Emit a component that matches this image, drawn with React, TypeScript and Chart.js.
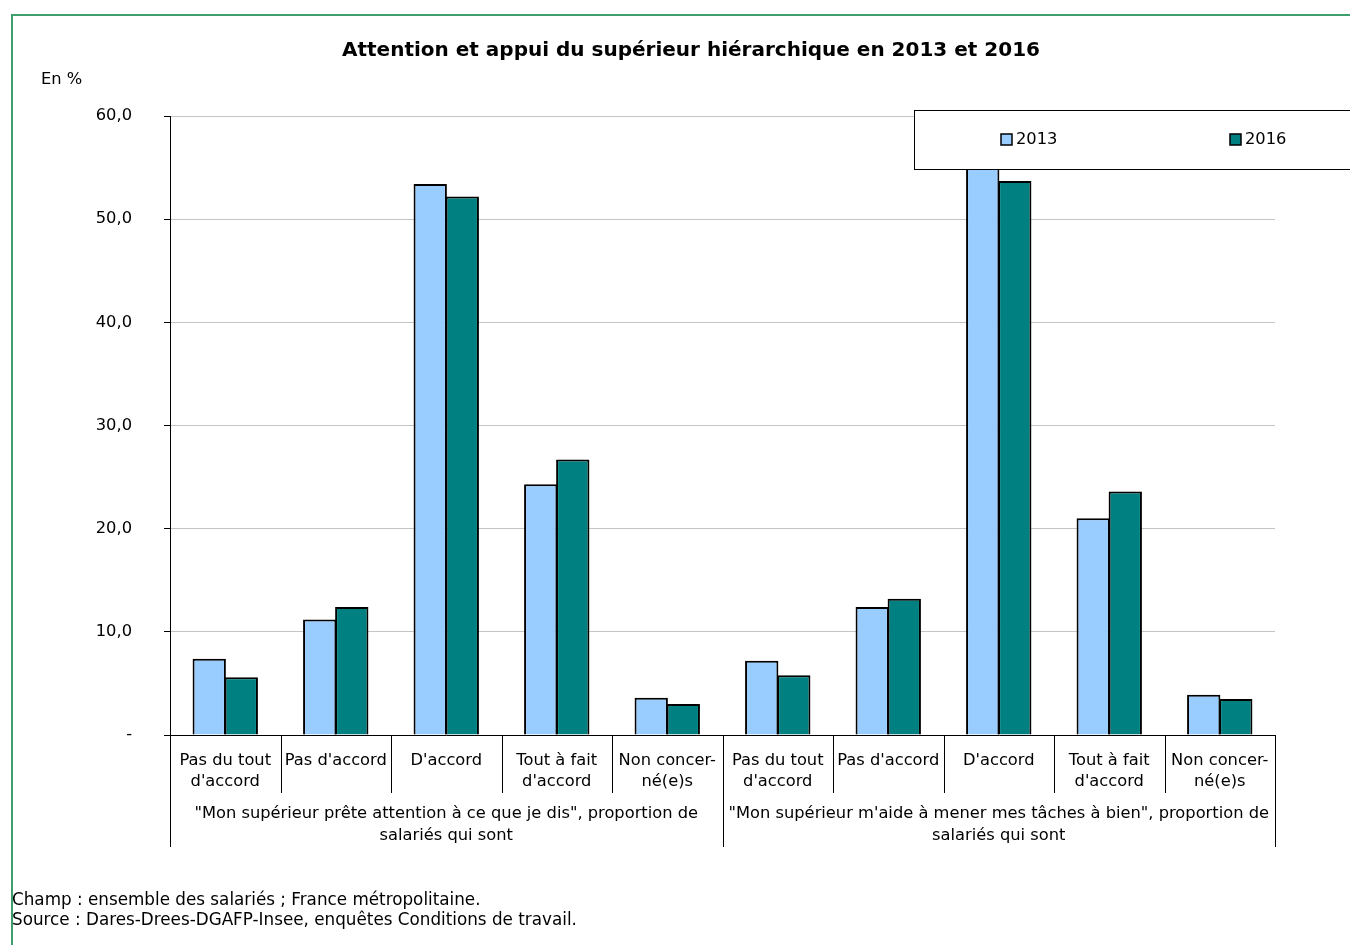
import React, { useEffect, useRef } from 'react';
import { Chart, registerables } from 'chart.js';

Chart.register(...registerables);

const titleText = 'Attention et appui du supérieur hiérarchique en 2013 et 2016';
const unitText = 'En %';
const categories: string[][] = [
  ['Pas du tout', "d'accord"],
  ["Pas d'accord"],
  ["D'accord"],
  ['Tout à fait', "d'accord"],
  ['Non concer-', 'né(e)s'],
  ['Pas du tout', "d'accord"],
  ["Pas d'accord"],
  ["D'accord"],
  ['Tout à fait', "d'accord"],
  ['Non concer-', 'né(e)s'],
];
const groupLabels: string[][] = [
  ['"Mon supérieur prête attention à ce que je dis", proportion de', 'salariés qui sont'],
  ['"Mon supérieur m\'aide à mener mes tâches à bien", proportion de', 'salariés qui sont'],
];
const seriesNames = ['2013', '2016'];
const values2013 = [7.4, 11.2, 53.4, 24.3, 3.6, 7.2, 12.4, 56.8, 21.0, 3.9];
const values2016 = [5.6, 12.4, 52.2, 26.7, 3.0, 5.8, 13.2, 53.7, 23.6, 3.5];
const yTickValues = [0, 10, 20, 30, 40, 50, 60];
const yTickLabels = ['-', '10,0', '20,0', '30,0', '40,0', '50,0', '60,0'];
const footerLines = [
  'Champ : ensemble des salariés ; France métropolitaine.',
  'Source : Dares-Drees-DGAFP-Insee, enquêtes Conditions de travail.',
];

const FONT = '"DejaVu Sans", Verdana, sans-serif';
const FS = 16.3;
const COLOR_2013 = '#99ccff';
const COLOR_2016 = '#008080';

const decorPlugin = {
  id: 'decor',
  beforeDraw(chart: any) {
    const ctx = chart.ctx as CanvasRenderingContext2D;
    ctx.save();
    // green frame
    ctx.strokeStyle = '#3f9e6e';
    ctx.lineWidth = 2;
    ctx.beginPath();
    ctx.moveTo(4, chart.height + 5);
    ctx.lineTo(4, 7);
    ctx.lineTo(chart.width + 5, 7);
    ctx.stroke();
    // title
    ctx.fillStyle = '#000';
    ctx.font = `bold 20px ${FONT}`;
    ctx.textAlign = 'center';
    ctx.textBaseline = 'middle';
    ctx.fillText(titleText, 683, 43);
    // unit
    ctx.font = `${FS}px ${FONT}`;
    ctx.textAlign = 'left';
    ctx.fillText(unitText, 33, 72);
    // footer
    ctx.font = `16.8px ${FONT}`;
    footerLines.forEach((l, i) => ctx.fillText(l, 4, 893 + i * 20));
    ctx.restore();
  },
  afterDraw(chart: any) {
    const ctx = chart.ctx as CanvasRenderingContext2D;
    const xs = chart.scales.x;
    const bottom = chart.chartArea.bottom;
    const n = categories.length;
    const w = (xs.right - xs.left) / n;
    ctx.save();
    // separators
    ctx.strokeStyle = '#000';
    ctx.lineWidth = 1;
    for (let i = 0; i <= n; i++) {
      const x = Math.round(xs.left + i * w) + 0.5;
      const end = i % 5 === 0 ? bottom + 112 : bottom + 58;
      ctx.beginPath();
      ctx.moveTo(x, bottom);
      ctx.lineTo(x, end);
      ctx.stroke();
    }
    // group labels
    ctx.fillStyle = '#000';
    ctx.font = `${FS}px ${FONT}`;
    ctx.textAlign = 'center';
    ctx.textBaseline = 'middle';
    groupLabels.forEach((lines, g) => {
      const cx = xs.left + (g * 5 + 2.5) * w;
      lines.forEach((l, j) => ctx.fillText(l, cx, bottom + 79 + j * 22));
    });
    // legend box
    ctx.fillStyle = '#fff';
    ctx.fillRect(906, 102, 460, 59);
    ctx.strokeStyle = '#000';
    ctx.lineWidth = 1;
    ctx.strokeRect(906.5, 102.5, 460, 59);
    const items = [
      { x: 993, color: COLOR_2013 },
      { x: 1222, color: COLOR_2016 },
    ];
    items.forEach((it, i) => {
      ctx.fillStyle = it.color;
      ctx.fillRect(it.x, 126, 11, 11);
      ctx.lineWidth = 1.5;
      ctx.strokeStyle = '#000';
      ctx.strokeRect(it.x, 126, 11, 11);
      ctx.fillStyle = '#000';
      ctx.font = `${FS}px ${FONT}`;
      ctx.textAlign = 'left';
      ctx.textBaseline = 'middle';
      ctx.fillText(seriesNames[i], it.x + 15, 132);
    });
    ctx.restore();
  },
};

export default function App() {
  const ref = useRef<HTMLCanvasElement>(null);
  useEffect(() => {
    if (!ref.current) return;
    const chart = new Chart(ref.current, {
      type: 'bar',
      data: {
        labels: categories,
        datasets: [
          {
            label: seriesNames[0],
            data: values2013,
            backgroundColor: COLOR_2013,
            borderColor: '#000',
            borderWidth: 2,
            categoryPercentage: 0.58,
            barPercentage: 1.04,
          },
          {
            label: seriesNames[1],
            data: values2016,
            backgroundColor: COLOR_2016,
            borderColor: '#000',
            borderWidth: 2,
            categoryPercentage: 0.58,
            barPercentage: 1.04,
          },
        ],
      },
      options: {
        responsive: false,
        animation: false,
        devicePixelRatio: 1,
        layout: { padding: { left: 0, top: 108, right: 83, bottom: 0 } },
        plugins: {
          legend: { display: false },
          title: { display: false },
          tooltip: { enabled: false },
        },
        scales: {
          x: {
            grid: { display: false, drawTicks: false },
            border: { display: true, color: '#000', width: 1 },
            ticks: {
              color: '#000',
              font: { family: FONT, size: FS, lineHeight: 1.3 },
              padding: 15,
              maxRotation: 0,
              autoSkip: false,
            },
            afterFit: (s: any) => {
              s.height = 210;
            },
          },
          y: {
            min: 0,
            max: 60,
            afterBuildTicks: (s: any) => {
              s.ticks = yTickValues.map((v) => ({ value: v }));
            },
            grid: { color: '#c4c4c4', tickColor: '#000', tickLength: 6, lineWidth: 1 },
            border: { display: true, color: '#000', width: 1 },
            ticks: {
              color: '#000',
              font: { family: FONT, size: FS },
              padding: 32,
              callback: (_v: any, i: number) => yTickLabels[i],
            },
            afterFit: (s: any) => {
              s.width = 162;
            },
          },
        },
      },
      plugins: [decorPlugin],
    });
    return () => chart.destroy();
  }, []);
  return (
    <div style={{ width: 1350, height: 937 }}>
      <canvas ref={ref} width={1350} height={937} style={{ display: 'block', width: 1350, height: 937 }} />
    </div>
  );
}
